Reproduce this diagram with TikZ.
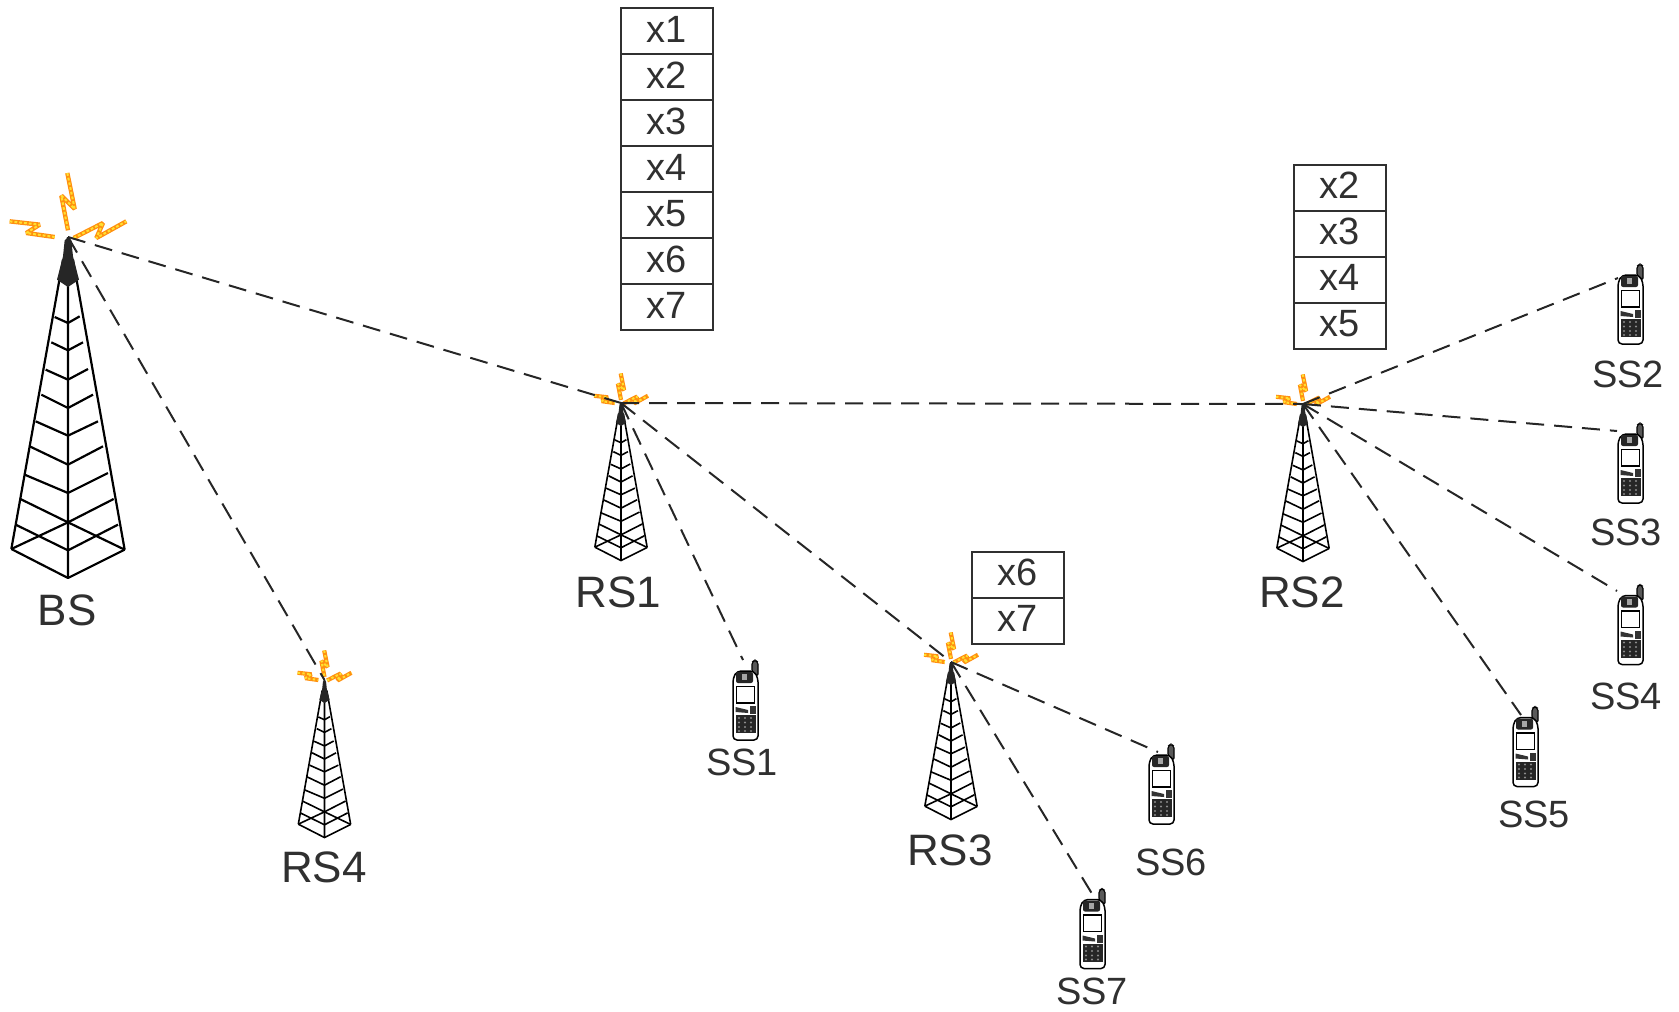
\documentclass[tikz,border=0pt]{standalone}
\usepackage{fontspec}
\setmainfont{Liberation Sans}
\definecolor{boltorange}{HTML}{FF9010}
\definecolor{boltyellow}{HTML}{FFE030}
\definecolor{inkgrey}{HTML}{303030}
\newcommand\zigbolt[4]{%
  \draw[boltouter,boltorange,line join=bevel] #1 -- #2 -- #3 -- #4;
  \draw[boltinner,boltyellow,line join=bevel] #1 -- #2 -- #3 -- #4;
}
\tikzset{
  x=0.5pt,y=-0.5pt,
  towerbig/.style={scale=1/3,line width=1.1pt,
    boltouter/.style={line width=2.2pt},boltinner/.style={line width=1pt,dash pattern=on 1.4pt off 1pt}},
  towersmall/.style={scale=0.154,line width=.8pt,
    boltouter/.style={line width=2.1pt},boltinner/.style={line width=1pt,dash pattern=on 1.2pt off 1.2pt}},
  link/.style={dashed,dash pattern=on 9pt off 5pt,line width=1pt,black!85},
  cell/.style={draw=inkgrey,line width=1pt,rectangle,minimum width=46pt,minimum height=23pt,inner sep=0pt,
    font=\fontsize{19}{19}\selectfont,text=inkgrey,text depth=2pt},
  biglabel/.style={font=\fontsize{22}{22}\selectfont,text=inkgrey,inner sep=0pt},
  smalllabel/.style={font=\fontsize{19}{19}\selectfont,text=inkgrey,inner sep=0pt},
  tower/.pic={
    \begin{scope}[shift={(-205,-232)},line join=round]
      \draw (35,1168) -- (190,300) (375,1170) -- (220,300) (205,232) -- (205,1255);
      \fill[black!85] (205,232) -- (195,242) -- (190,290) -- (172,360) -- (205,382) -- (238,360) -- (220,290) -- (215,242) -- cycle;
      \foreach \cy/\lx/\ly/\rx/\ry in {490/165/472/240/470,572/155/548/250/548,660/138/630/265/628,745/125/705/280/705,828/108/785/295/785,915/90/860/310/860,1000/75/945/325/940,1172/48/1095/355/1095}
        \draw (\lx,\ly) -- (205,\cy) -- (\rx,\ry);
      \draw (62,1018) -- (205,1088) -- (375,1170);
      \draw (35,1168) -- (205,1088) -- (342,1018);
      \draw (35,1168) -- (205,1255) -- (375,1170);
      \zigbolt{(203,40)}{(225,148)}{(185,108)}{(205,212)}
      \zigbolt{(30,185)}{(120,195)}{(80,220)}{(165,232)}
      \zigbolt{(222,235)}{(310,190)}{(290,235)}{(380,185)}
    \end{scope}
  },
  phone/.pic={
    \begin{scope}[line width=.55pt,black]
      \draw[rounded corners=1pt,fill=black!65] (20,12) -- (20,2) -- (23,0) -- (26,2) -- (26,16) -- cycle;
      \draw[rounded corners=2pt,fill=white,line width=.75pt] (1,18) -- (5,11) -- (22,11) -- (26,18) -- (26,80) -- (1,80) -- cycle;
      \fill[black!85,rounded corners=1pt] (4,12) rectangle (21,23);
      \fill[black!35] (10,14) rectangle (15,20);
      \draw[fill=white,line width=.7pt] (4.5,26.5) rectangle (22.5,43);
      \fill[black!80] (3.5,47) -- (16,50) -- (16,53) -- (3.5,52) -- cycle;
      \fill[black!80] (18,46) rectangle (24,54);
      \fill[black!85] (3.5,55) rectangle (23.5,73);
      \foreach \kx in {7,13,19} \foreach \ky in {58,62.5,67,71}
        \fill[white!55!black] (\kx,\ky) circle[radius=1.1];
      \fill[white] (6,75) rectangle (21,78);
    \end{scope}
  }
}
\begin{document}
\begin{tikzpicture}
\useasboundingbox (0,0) rectangle (1679,1011);
% towers
\pic[towerbig] at (68,237) {tower};
\pic[towersmall] at (621,403) {tower};
\pic[towersmall] at (1303,404) {tower};
\pic[towersmall] at (951,662) {tower};
\pic[towersmall] at (324.5,680) {tower};
\coordinate (bsTop) at (68,237);
\coordinate (rs1Top) at (621,403);
\coordinate (rs2Top) at (1303,404);
\coordinate (rs3Top) at (951,662);
\coordinate (rs4Top) at (324.5,680);
% phones
\pic at (732,660) {phone};
\pic at (1617,264) {phone};
\pic at (1617,423) {phone};
\pic at (1617,584.5) {phone};
\pic at (1512,706.5) {phone};
\pic at (1148,744) {phone};
\pic at (1079,888.5) {phone};
\coordinate (ss1End) at (743,660);
\coordinate (ss2End) at (1618,278);
\coordinate (ss3End) at (1617,431);
\coordinate (ss4End) at (1617,591);
\coordinate (ss5End) at (1521,715);
\coordinate (ss6End) at (1158,752);
\coordinate (ss7End) at (1094,897);
% links
\draw[link] (bsTop) -- (rs1Top);
\draw[link] (bsTop) -- (rs4Top);
\draw[link] (rs1Top) -- (rs2Top);
\draw[link] (rs1Top) -- (rs3Top);
\draw[link] (rs1Top) -- (ss1End);
\draw[link] (rs2Top) -- (ss2End);
\draw[link] (rs2Top) -- (ss3End);
\draw[link] (rs2Top) -- (ss4End);
\draw[link] (rs2Top) -- (ss5End);
\draw[link] (rs3Top) -- (ss6End);
\draw[link] (rs3Top) -- (ss7End);
% labels
\node[biglabel] (bsLabel) at (67,610) {BS};
\node[biglabel] (rs1Label) at (618.5,592) {RS1};
\node[biglabel] (rs2Label) at (1302,592) {RS2};
\node[biglabel] (rs3Label) at (950,850) {RS3};
\node[biglabel] (rs4Label) at (324,867) {RS4};
\node[smalllabel] (ss1Label) at (742,762) {SS1};
\node[smalllabel] (ss2Label) at (1628,374) {SS2};
\node[smalllabel] (ss3Label) at (1626,532) {SS3};
\node[smalllabel] (ss4Label) at (1626,696) {SS4};
\node[smalllabel] (ss5Label) at (1534,814) {SS5};
\node[smalllabel] (ss6Label) at (1171,862) {SS6};
\node[smalllabel] (ss7Label) at (1092,991) {SS7};
% buffer stacks
\foreach \n/\t [count=\i from 0] in {a1/x1,a2/x2,a3/x3,a4/x4,a5/x5,a6/x6,a7/x7}
  \node[cell] (\n) at (666.7,{31+46*\i}) {\t};
\foreach \n/\t [count=\i from 0] in {b2/x2,b3/x3,b4/x4,b5/x5}
  \node[cell] (\n) at (1339.7,{187.5+46*\i}) {\t};
\foreach \n/\t [count=\i from 0] in {c6/x6,c7/x7}
  \node[cell] (\n) at (1017.5,{574.7+46*\i}) {\t};
\end{tikzpicture}
\end{document}
